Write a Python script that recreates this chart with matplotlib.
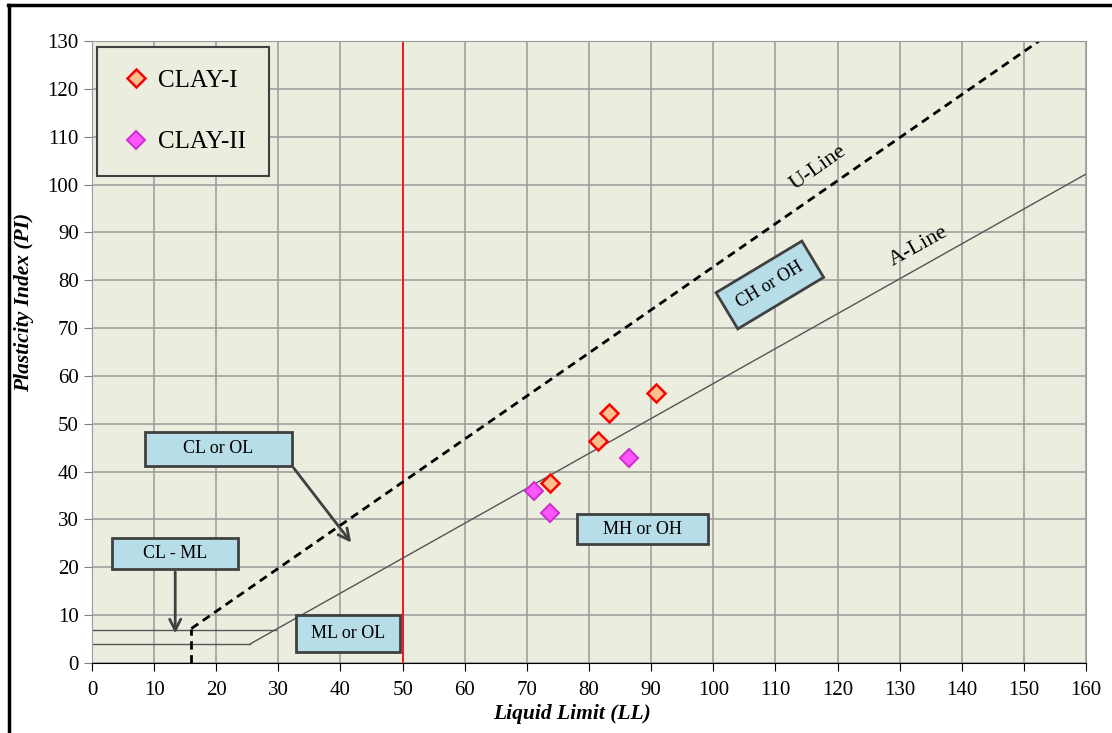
import matplotlib
matplotlib.use("Agg")
import matplotlib.pyplot as plt
import numpy as np
from matplotlib.patches import Rectangle
from matplotlib.lines import Line2D

plt.rcParams['font.family'] = ['Liberation Serif', 'DejaVu Serif']

# Atterberg limit test results (LL, PI)
clay1_ll = [73.7, 81.4, 83.2, 90.8]
clay1_pi = [37.6, 46.3, 52.3, 56.4]
clay2_ll = [71.2, 73.7, 86.5]
clay2_pi = [36.0, 31.4, 42.8]

# Casagrande chart boundaries
u_line_ll = [16, 152.4]
a_line_ll = [25.5, 160]
x_ticks = np.arange(0, 161, 10)
y_ticks = np.arange(0, 131, 10)

def u_line(ll):
    return 0.9 * (np.asarray(ll) - 8)

def a_line(ll):
    return 0.73 * (np.asarray(ll) - 20)

fig = plt.figure(figsize=(11.12, 7.33), dpi=100)
ax = fig.add_axes([0.0827, 0.0955, 0.894, 0.8486])
ax.set_facecolor('#EBEEDE')

ax.set_xlim(0, 160)
ax.set_ylim(0, 130)
ax.set_xticks(x_ticks)
ax.set_yticks(y_ticks)
ax.grid(True, color='#9A9A9A', linewidth=1.1)
ax.set_axisbelow(True)
ax.tick_params(labelsize=15, direction='out', length=6, color='#808080')
ax.tick_params(axis='x', color='black', pad=7)
for side in ['top', 'right', 'left']:
    ax.spines[side].set_color('#9A9A9A')
ax.spines['bottom'].set_color('black')

ax.set_xlabel('Liquid Limit (LL)', fontsize=15.5, fontweight='bold', style='italic')
ax.set_ylabel('Plasticity Index (PI)', fontsize=15.5, fontweight='bold', style='italic')
ax.xaxis.set_label_coords(0.483, -0.066)
ax.yaxis.set_label_coords(-0.058, 0.58)

# LL = 50 divider
ax.axvline(50, color='#FF0000', linewidth=1.2)

# U-line and A-line
ax.plot(u_line_ll, u_line(u_line_ll), color='black', linestyle=(0, (3, 2)), linewidth=2)
ax.plot(a_line_ll, a_line(a_line_ll), color='#555555', linewidth=1)
ax.plot([0, a_line_ll[0]], [4, 4], color='#555555', linewidth=1)
ax.plot([0, 20 + 7 / 0.73], [7, 7], color='#555555', linewidth=1)
ax.plot([16, 16], [0, u_line(16)], color='black', linestyle=(0, (3, 2)), linewidth=2)

ax.text(116.9, 103.4, 'U-Line', fontsize=16, rotation=35, ha='center', va='center')
ax.text(133.0, 87.1, 'A-Line', fontsize=16, rotation=29, ha='center', va='center')

# zone labels
box_kw = dict(facecolor='#B7DDE8', edgecolor='#404040', linewidth=2)
zones = [
    ('CL or OL', 8.5, 41.2, 23.7, 7.1),
    ('CL - ML', 3.2, 19.6, 20.3, 6.5),
    ('ML or OL', 32.8, 2.3, 16.8, 7.7),
    ('MH or OH', 78.1, 24.9, 21.1, 6.2),
]
for name, x0, y0, w, h in zones:
    ax.add_patch(Rectangle((x0, y0), w, h, zorder=4, **box_kw))
    ax.text(x0 + w / 2, y0 + h / 2, name, fontsize=13, ha='center', va='center', zorder=5)

ax.text(109.1, 79.0, 'CH or OH', fontsize=13, rotation=31, ha='center', va='center', zorder=5,
        bbox=dict(boxstyle='square,pad=0.7', **box_kw))

arrow_kw = dict(arrowstyle='->,head_length=0.8,head_width=0.4', color='#404040', lw=2)
ax.annotate('', xy=(42.0, 24.7), xytext=(32.2, 41.2), arrowprops=arrow_kw, zorder=3)
ax.annotate('', xy=(13.4, 5.6), xytext=(13.4, 19.6), arrowprops=arrow_kw, zorder=3)

# samples
ax.plot(clay1_ll, clay1_pi, linestyle='none', marker='D', markersize=9,
        markerfacecolor='#FAC090', markeredgecolor='#FF0000', markeredgewidth=1.8,
        label='CLAY-I', zorder=6)
ax.plot(clay2_ll, clay2_pi, linestyle='none', marker='D', markersize=9,
        markerfacecolor='#FF55FF', markeredgecolor='#CC33CC', markeredgewidth=1.5,
        label='CLAY-II', zorder=6)

leg = ax.legend(loc='upper left', bbox_to_anchor=(0.005, 0.99), fontsize=18,
                frameon=True, fancybox=False, edgecolor='#404040', facecolor='#EBEEDE',
                framealpha=1, labelspacing=1.55, borderpad=0.9, handletextpad=0.25,
                handlelength=1.3, borderaxespad=0)
leg.get_frame().set_linewidth(1.5)

# page frame
fig.add_artist(Line2D([0.0085, 0.0085], [0, 0.993], color='black', linewidth=2.5))
fig.add_artist(Line2D([0.0075, 1.0], [0.993, 0.993], color='black', linewidth=2.5))

fig.savefig('out.png', dpi=100)
